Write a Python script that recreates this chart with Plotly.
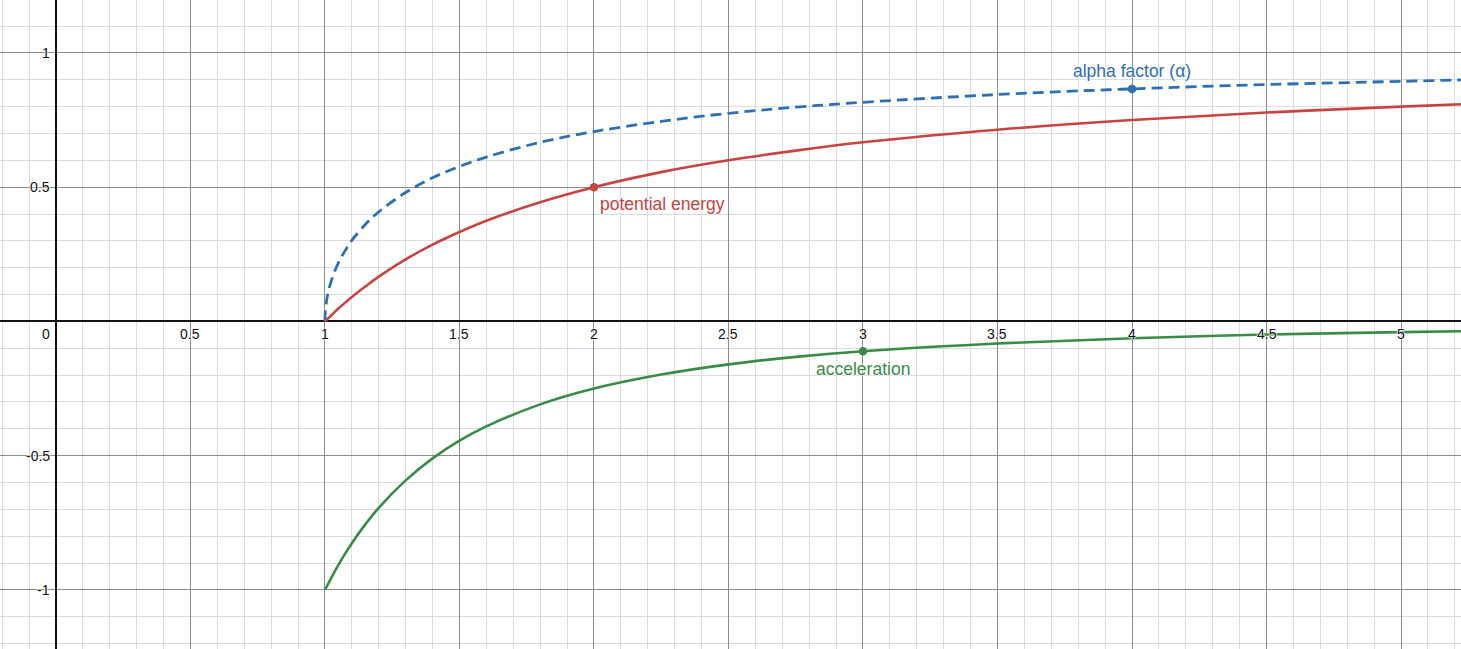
"""Desmos-style plot of alpha factor, potential energy and acceleration."""

import plotly.graph_objects as go

# Values
alpha_x = [1, 1.001, 1.005, 1.01, 1.02, 1.04, 1.06, 1.08, 1.1, 1.15, 1.2, 1.3, 1.4,
           1.5, 1.6, 1.8, 2, 2.25, 2.5, 2.75, 3, 3.5, 4, 4.5, 5, 5.25]
alpha_y = [0, 0.032, 0.071, 0.100, 0.140, 0.196, 0.238, 0.272, 0.302, 0.361, 0.408, 0.480, 0.535,
           0.577, 0.612, 0.667, 0.707, 0.745, 0.775, 0.798, 0.816, 0.845, 0.866, 0.882, 0.894, 0.900]

curve_x = [1, 1.025, 1.05, 1.075, 1.1, 1.15, 1.2, 1.3, 1.4, 1.5, 1.6, 1.8, 2, 2.25, 2.5,
           2.75, 3, 3.5, 4, 4.5, 5, 5.25]
energy_y = [0, 0.024, 0.048, 0.070, 0.091, 0.130, 0.167, 0.231, 0.286, 0.333, 0.375, 0.444, 0.5,
            0.556, 0.6, 0.636, 0.667, 0.714, 0.75, 0.778, 0.8, 0.810]
accel_y = [-1, -0.952, -0.907, -0.865, -0.826, -0.756, -0.694, -0.592, -0.510, -0.444, -0.391,
           -0.309, -0.25, -0.198, -0.16, -0.132, -0.111, -0.082, -0.0625, -0.049, -0.04, -0.036]

# Highlighted points with their labels
alpha_pt = (4, 0.866)
energy_pt = (2, 0.5)
accel_pt = (3, -0.111)

x_ticks = [0.5, 1, 1.5, 2, 2.5, 3, 3.5, 4, 4.5, 5]
y_ticks = [1, 0.5, -0.5, -1]

COLORS = {"red": "#c74440", "blue": "#2d70b3", "green": "#388c46"}
HALO = "0 0 2px white, 0 0 2px white, 0 0 2px white"
FONT = "Arial, Liberation Sans, sans-serif"

fig = go.Figure()

fig.add_trace(go.Scatter(
    x=alpha_x, y=alpha_y, mode="lines", line_shape="spline",
    line=dict(color=COLORS["blue"], width=2.8, dash="11px,6px"),
))
fig.add_trace(go.Scatter(
    x=curve_x, y=energy_y, mode="lines", line_shape="spline",
    line=dict(color=COLORS["red"], width=2.6),
))
fig.add_trace(go.Scatter(
    x=curve_x, y=accel_y, mode="lines", line_shape="spline",
    line=dict(color=COLORS["green"], width=2.6),
))

# Labelled points
for pt, color in [(alpha_pt, "blue"), (energy_pt, "red"), (accel_pt, "green")]:
    fig.add_trace(go.Scatter(
        x=[pt[0]], y=[pt[1]], mode="markers",
        marker=dict(color=COLORS[color], size=8.5),
    ))

label_size = 17.5
fig.add_annotation(x=alpha_pt[0], y=alpha_pt[1], text="alpha factor (α)", showarrow=False,
                   xanchor="center", yanchor="bottom", yshift=6,
                   font=dict(family=FONT, size=label_size, color=COLORS["blue"], shadow=HALO))
fig.add_annotation(x=energy_pt[0], y=energy_pt[1], text="potential energy", showarrow=False,
                   xanchor="left", yanchor="top", xshift=4, yshift=-5,
                   font=dict(family=FONT, size=label_size, color=COLORS["red"], shadow=HALO))
fig.add_annotation(x=accel_pt[0], y=accel_pt[1], text="acceleration", showarrow=False,
                   xanchor="center", yanchor="top", yshift=-6,
                   font=dict(family=FONT, size=label_size, color=COLORS["green"], shadow=HALO))

# Tick labels drawn next to the axes, Desmos style
tick_font = dict(family=FONT, size=14, color="#111111", shadow=HALO)
for v in x_ticks:
    fig.add_annotation(x=v, y=0, text=f"{v:g}", showarrow=False, xanchor="center",
                       yanchor="top", yshift=-3, font=tick_font)
fig.add_annotation(x=0, y=0, text="0", showarrow=False, xanchor="right", yanchor="top",
                   xshift=-4, yshift=-3, font=tick_font)
for v in y_ticks:
    fig.add_annotation(x=0, y=v, text=f"{v:g}", showarrow=False, xanchor="right",
                       yanchor="middle", xshift=-4, font=tick_font)

axis_common = dict(
    showticklabels=False, ticks="", showline=False,
    showgrid=True, gridcolor="#8c8c8c", gridwidth=1, dtick=0.5, tick0=0,
    zeroline=True, zerolinecolor="#111111", zerolinewidth=1.6,
    minor=dict(dtick=0.1, tick0=0, showgrid=True, gridcolor="#dcdcdc", gridwidth=1),
    fixedrange=True,
)

fig.update_layout(
    width=1461, height=649,
    margin=dict(l=0, r=0, t=0, b=0),
    plot_bgcolor="white", paper_bgcolor="white",
    showlegend=False, hovermode=False,
    xaxis=dict(range=[-0.208, 5.223], **axis_common),
    yaxis=dict(range=[-1.220, 1.197], **axis_common),
)

fig.write_html(
    "out.html",
    config={"displayModeBar": False},
    post_script="document.body.style.margin = '0'; document.body.style.overflow = 'hidden';",
)
